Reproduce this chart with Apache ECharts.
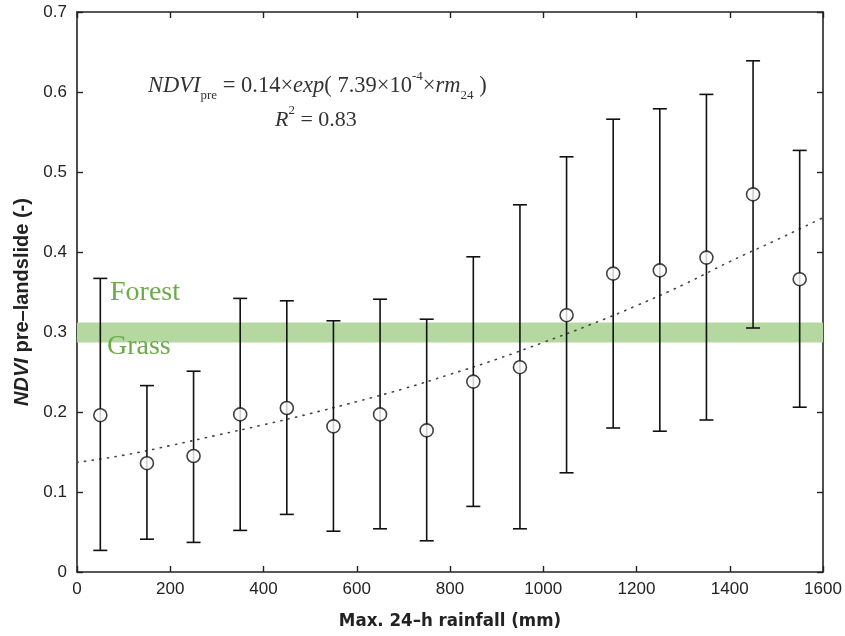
<!DOCTYPE html>
<html>
<head>
<meta charset="utf-8">
<script src="https://cdn.jsdelivr.net/npm/echarts@6/dist/echarts.min.js"></script>
<style>
html,body{margin:0;padding:0;background:#fff;}
#chart{width:845px;height:636px;}
</style>
</head>
<body>
<div id="chart"></div>
<script>
// Rainfall bin centres (mm)
var rainfall = [50,150,250,350,450,550,650,750,850,950,1050,1150,1250,1350,1450,1550];
// Mean NDVI pre-landslide per bin
var ndviMean = [0.196,0.136,0.145,0.197,0.205,0.182,0.197,0.177,0.238,0.256,0.321,0.373,0.377,0.393,0.472,0.366];
// Upper / lower error bar ends
var ndviUpper = [0.367,0.233,0.251,0.342,0.339,0.314,0.341,0.316,0.394,0.459,0.519,0.566,0.579,0.597,0.639,0.527];
var ndviLower = [0.027,0.041,0.037,0.052,0.072,0.051,0.054,0.039,0.082,0.054,0.124,0.180,0.176,0.190,0.305,0.206];
// Fitted curve
var fitX = [0,100,200,300,400,500,600,700,800,900,1000,1100,1200,1300,1400,1500,1600];
var fitY = [0.137,0.146,0.158,0.171,0.184,0.198,0.213,0.229,0.247,0.266,0.287,0.309,0.333,0.359,0.388,0.415,0.443];
// Forest/grass band
var bandLow = 0.287, bandHigh = 0.312;
var xTicks = [0,200,400,600,800,1000,1200,1400,1600];
var yTicks = [0,0.1,0.2,0.3,0.4,0.5,0.6,0.7];

var chart = echarts.init(document.getElementById('chart'));
var axisCol = '#222';
var sansFont = '"Liberation Sans", Arial, sans-serif';
var narrowFont = '"Liberation Sans Narrow", "DejaVu Sans Condensed", "Liberation Sans", sans-serif';
var serifFont = '"Liberation Serif", "Times New Roman", serif';

var errData = rainfall.map(function(x,i){ return [x, ndviLower[i], ndviUpper[i]]; });
var meanData = rainfall.map(function(x,i){ return [x, ndviMean[i]]; });
var fitData = fitX.map(function(x,i){ return [x, fitY[i]]; });

function axisBase(extra){
  var a = {
    type: 'value',
    axisLine: {show: true, onZero: false, lineStyle: {color: axisCol, width: 1.6}},
    axisTick: {show: true, inside: true, length: 6, lineStyle: {color: axisCol, width: 1.4}},
    splitLine: {show: false}
  };
  for (var k in extra) a[k] = extra[k];
  return a;
}

var option = {
  backgroundColor: '#fff',
  animation: false,
  grid: {left: 77, right: 22, top: 12, bottom: 63},
  xAxis: [
    axisBase({
      min: xTicks[0], max: xTicks[xTicks.length-1], interval: 200,
      name: 'Max. 24\u2013h rainfall (mm)', nameLocation: 'middle', nameGap: 40,
      nameTextStyle: {fontFamily: narrowFont, fontWeight: 'bold', fontSize: 18.5, color: axisCol},
      axisLabel: {fontFamily: sansFont, fontSize: 17, color: axisCol, margin: 9,
        formatter: function(v){ return String(v); }}
    }),
    axisBase({
      position: 'top', min: xTicks[0], max: xTicks[xTicks.length-1], interval: 200,
      axisLabel: {show: false}
    })
  ],
  yAxis: [
    axisBase({
      min: yTicks[0], max: yTicks[yTicks.length-1], interval: 0.1,
      name: '{i|NDVI}{n| pre\u2013landslide (-)}', nameLocation: 'middle', nameGap: 44,
      nameTextStyle: {
        padding: [0, 20, 0, 0],
        rich: {
          i: {fontFamily: sansFont, fontWeight: 'bold', fontStyle: 'italic', fontSize: 20, color: axisCol},
          n: {fontFamily: sansFont, fontWeight: 'bold', fontSize: 20, color: axisCol}
        }
      },
      axisLabel: {fontFamily: sansFont, fontSize: 17, color: axisCol, margin: 10}
    }),
    axisBase({
      position: 'right', min: yTicks[0], max: yTicks[yTicks.length-1], interval: 0.1,
      axisLabel: {show: false}
    })
  ],
  series: [
    {
      name: 'band', type: 'line', data: [], silent: true,
      markArea: {
        silent: true,
        itemStyle: {color: '#b5d7a0', opacity: 1},
        data: [[{yAxis: bandLow}, {yAxis: bandHigh}]]
      },
      z: 1
    },
    {
      name: 'fit', type: 'line', data: fitData, smooth: true, showSymbol: false,
      lineStyle: {color: '#444', width: 1.6, type: [1.2, 6.5], cap: 'round'},
      z: 2
    },
    {
      name: 'err', type: 'custom', data: errData, z: 3,
      renderItem: function(params, api){
        var x = api.value(0);
        var lo = api.coord([x, api.value(1)]);
        var hi = api.coord([x, api.value(2)]);
        var hw = 7;
        var st = {stroke: '#111', lineWidth: 1.6, fill: null};
        return {type: 'group', children: [
          {type: 'line', shape: {x1: lo[0], y1: lo[1], x2: hi[0], y2: hi[1]}, style: st},
          {type: 'line', shape: {x1: lo[0]-hw, y1: lo[1], x2: lo[0]+hw, y2: lo[1]}, style: st},
          {type: 'line', shape: {x1: hi[0]-hw, y1: hi[1], x2: hi[0]+hw, y2: hi[1]}, style: st}
        ]};
      }
    },
    {
      name: 'mean', type: 'scatter', data: meanData, symbol: 'circle', symbolSize: 13,
      itemStyle: {color: '#fff', borderColor: '#111', borderWidth: 1.6},
      z: 4
    }
  ],
  graphic: [
    {
      type: 'text', left: 148, top: 70, z: 10,
      style: {
        text: '{it|NDVI}{sub|pre}{n| = 0.14×}{it|exp}{n|( 7.39×10}{sup|-4}{n|×}{it|rm}{sub|24}{n| )}',
        rich: {
          it: {fontFamily: serifFont, fontStyle: 'italic', fontSize: 22.5, fill: '#333', lineHeight: 32, verticalAlign: 'middle'},
          n: {fontFamily: serifFont, fontSize: 22.5, fill: '#333', lineHeight: 32, verticalAlign: 'middle'},
          sub: {fontFamily: serifFont, fontSize: 13, fill: '#333', lineHeight: 13, verticalAlign: 'bottom'},
          sup: {fontFamily: serifFont, fontSize: 13, fill: '#333', lineHeight: 13, verticalAlign: 'top'}
        }
      }
    },
    {
      type: 'text', left: 275, top: 104, z: 10,
      style: {
        text: '{it|R}{sup|2}{n| = 0.83}',
        rich: {
          it: {fontFamily: serifFont, fontStyle: 'italic', fontSize: 22, fill: '#333', lineHeight: 32, verticalAlign: 'middle'},
          n: {fontFamily: serifFont, fontSize: 22, fill: '#333', lineHeight: 32, verticalAlign: 'middle'},
          sup: {fontFamily: serifFont, fontSize: 13, fill: '#333', lineHeight: 13, verticalAlign: 'top'}
        }
      }
    },
    {
      type: 'text', left: 110, top: 279, z: 10,
      style: {text: 'Forest', fontFamily: serifFont, fontSize: 28, fill: '#6bab4a'}
    },
    {
      type: 'text', left: 107, top: 333, z: 10,
      style: {text: 'Grass', fontFamily: serifFont, fontSize: 28, fill: '#6bab4a'}
    }
  ]
};
chart.setOption(option);
</script>
</body>
</html>
